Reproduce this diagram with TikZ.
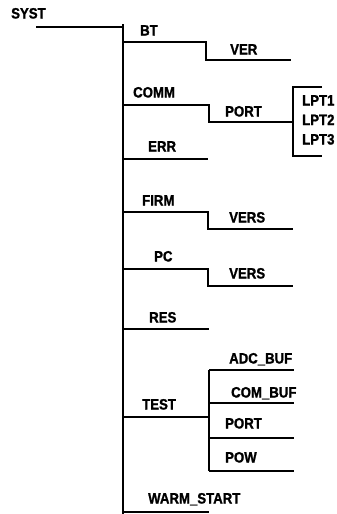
\documentclass[tikz,border=0pt]{standalone}
\usepackage{fontspec}
\setmainfont[FakeStretch=0.88,BoldFeatures={FakeBold=1.2}]{Liberation Sans}
\begin{document}
\begin{tikzpicture}[x=1pt,y=-1pt,
  lbl/.style={anchor=base west,inner sep=0pt,font=\fontsize{15}{17}\selectfont\bfseries},
  wire/.style={line width=2pt,line cap=butt,line join=miter}]
\useasboundingbox (0,0) rectangle (337,514);
% labels
\node[lbl] (syst) at (11,18.5) {SYST};
\node[lbl] (bt) at (140,35.5) {BT};
\node[lbl] (ver) at (230,54.5) {VER};
\node[lbl] (comm) at (133,97.5) {COMM};
\node[lbl] (port) at (225,116.5) {PORT};
\node[lbl] (lpta) at (302,105.5) {LPT1};
\node[lbl] (lptb) at (302,125) {LPT2};
\node[lbl] (lptc) at (302,144.5) {LPT3};
\node[lbl] (err) at (148,151.5) {ERR};
\node[lbl] (firm) at (142,205.5) {FIRM};
\node[lbl] (versa) at (229,222.5) {VERS};
\node[lbl] (pc) at (154,261.5) {PC};
\node[lbl] (versb) at (229,278.5) {VERS};
\node[lbl] (res) at (149,322.5) {RES};
\node[lbl] (test) at (142,409.5) {TEST};
\node[lbl] (adc) at (229,363.5) {ADC\_BUF};
\node[lbl] (com) at (231,397.5) {COM\_BUF};
\node[lbl] (portb) at (225,428.5) {PORT};
\node[lbl] (pow) at (225,462.5) {POW};
\node[lbl] (warm) at (148,503.5) {WARM\_START};
% coordinates
\coordinate (s0) at (36,27);
\coordinate (s1) at (123,27);
\coordinate (ttop) at (123,24);
\coordinate (tbot) at (123,514);
% trunk
\draw[wire] (s0) -- (s1);
\draw[wire] (ttop) -- (tbot);
% BT
\coordinate (bt0) at (123,42); \coordinate (bt1) at (206,42);
\coordinate (bt2) at (206,60); \coordinate (bt3) at (291,60);
\draw[wire] (bt0) -- (bt1) -- (bt2) -- (bt3);
% COMM
\coordinate (cm0) at (123,105); \coordinate (cm1) at (209,105);
\coordinate (cm2) at (209,122); \coordinate (cm3) at (293,122);
\draw[wire] (cm0) -- (cm1) -- (cm2) -- (cm3);
\coordinate (bk0) at (322,87); \coordinate (bk1) at (293,87);
\coordinate (bk2) at (293,156); \coordinate (bk3) at (322,156);
\draw[wire] (bk0) -- (bk1) -- (bk2) -- (bk3);
% ERR
\coordinate (er0) at (123,159); \coordinate (er1) at (208,159);
\draw[wire] (er0) -- (er1);
% FIRM
\coordinate (fm0) at (123,212); \coordinate (fm1) at (208,212);
\coordinate (fm2) at (208,229); \coordinate (fm3) at (293,229);
\draw[wire] (fm0) -- (fm1) -- (fm2) -- (fm3);
% PC
\coordinate (pc0) at (123,269); \coordinate (pc1) at (208,269);
\coordinate (pc2) at (208,286); \coordinate (pc3) at (293,286);
\draw[wire] (pc0) -- (pc1) -- (pc2) -- (pc3);
% RES
\coordinate (rs0) at (123,329); \coordinate (rs1) at (209,329);
\draw[wire] (rs0) -- (rs1);
% TEST
\coordinate (ts0) at (123,417); \coordinate (ts1) at (209,417);
\draw[wire] (ts0) -- (ts1);
\coordinate (tv0) at (209,370); \coordinate (tv1) at (209,471);
\draw[wire] (tv0) -- (tv1);
\coordinate (ta0) at (209,370); \coordinate (ta1) at (294,370);
\coordinate (tb0) at (209,403); \coordinate (tb1) at (294,403);
\coordinate (tc0) at (209,438); \coordinate (tc1) at (294,438);
\coordinate (td0) at (209,471); \coordinate (td1) at (294,471);
\draw[wire] (ta0) -- (ta1);
\draw[wire] (tb0) -- (tb1);
\draw[wire] (tc0) -- (tc1);
\draw[wire] (td0) -- (td1);
% WARM_START
\coordinate (wm0) at (123,512); \coordinate (wm1) at (209,512);
\draw[wire] (wm0) -- (wm1);
\end{tikzpicture}
\end{document}
